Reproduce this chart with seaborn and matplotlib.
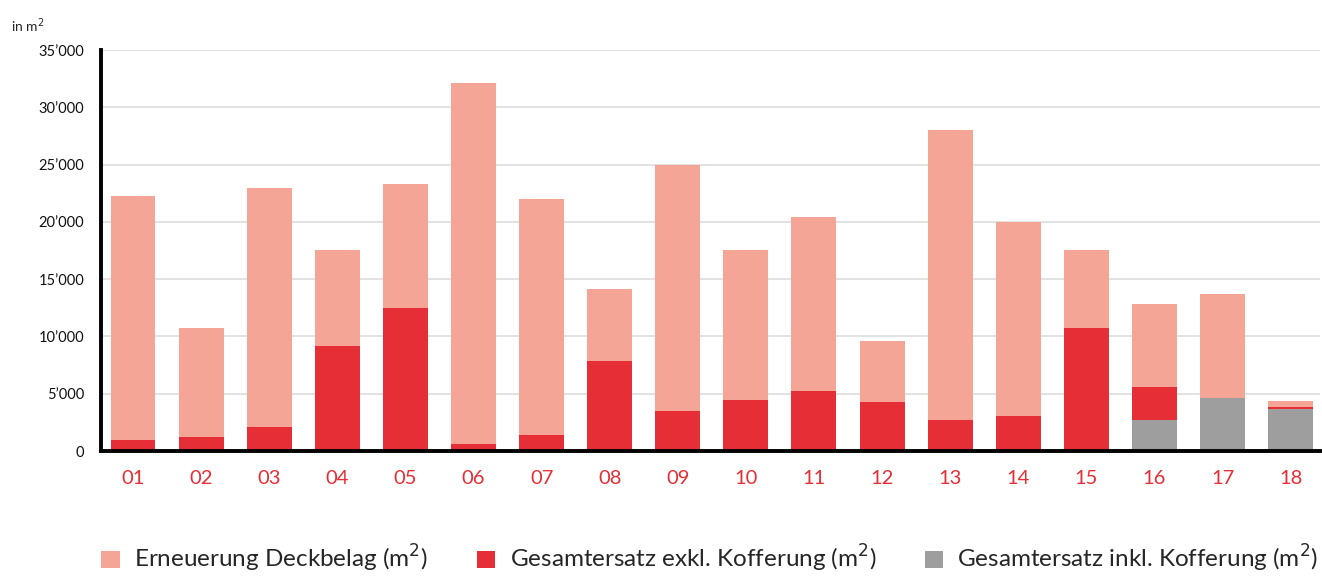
import numpy as np
import pandas as pd
import matplotlib
matplotlib.use("Agg")
import matplotlib.pyplot as plt
import seaborn as sns
from matplotlib.ticker import FuncFormatter
from matplotlib.patches import Patch

# Daten (m2) pro Abschnitt
abschnitte = ["01", "02", "03", "04", "05", "06", "07", "08", "09",
              "10", "11", "12", "13", "14", "15", "16", "17", "18"]
deckbelag = [21300, 9550, 20850, 8380, 10820, 31520, 20600, 6280, 21460,
             13090, 15180, 5320, 25320, 16940, 6800, 7240, 9070, 520]
exkl_kofferung = [950, 1200, 2100, 9160, 12480, 600, 1400, 7860, 3500,
                  4450, 5240, 4280, 2700, 3050, 10740, 2890, 0, 170]
inkl_kofferung = [0, 0, 0, 0, 0, 0, 0, 0, 0,
                  0, 0, 0, 0, 0, 0, 2700, 4630, 3670]

labels = ["Erneuerung Deckbelag (m$^2$)",
          "Gesamtersatz exkl. Kofferung (m$^2$)",
          "Gesamtersatz inkl. Kofferung (m$^2$)"]
farben = ["#F4A595", "#E52E35", "#9E9E9E"]

df = pd.DataFrame({"abschnitt": abschnitte, "deck": deckbelag,
                   "exkl": exkl_kofferung, "inkl": inkl_kofferung})
df["stufe2"] = df["inkl"] + df["exkl"]
df["stufe3"] = df["stufe2"] + df["deck"]

sns.set_theme(style="white")
plt.rcParams["font.family"] = ["Lato", "DejaVu Sans"]

fig = plt.figure(figsize=(13.22, 5.76), dpi=100)
ax = fig.add_axes([0.0764, 0.217, 0.922, 0.696])

# gestapelte Balken: Summen von oben nach unten zeichnen
sns.barplot(data=df, x="abschnitt", y="stufe3", color=farben[0], width=0.66,
            saturation=1, ax=ax, zorder=2)
sns.barplot(data=df, x="abschnitt", y="stufe2", color=farben[1], width=0.66,
            saturation=1, ax=ax, zorder=3)
sns.barplot(data=df, x="abschnitt", y="inkl", color=farben[2], width=0.66,
            saturation=1, ax=ax, zorder=4)
for p in ax.patches:
    p.set_linewidth(0)

ax.set_ylim(0, 35000)
ax.set_xlim(-0.47, 17.43)
ax.set_yticks(np.arange(0, 35001, 5000))
ax.yaxis.set_major_formatter(FuncFormatter(
    lambda v, _: "0" if v == 0 else f"{int(v):,}".replace(",", "\u2019")))
ax.yaxis.grid(True, color="#DDDDDD", linewidth=1.2, zorder=0)
ax.set_axisbelow(True)

ax.set_xlabel("")
ax.set_ylabel("")
for s in ["top", "right"]:
    ax.spines[s].set_visible(False)
for s in ["left", "bottom"]:
    ax.spines[s].set_color("black")
    ax.spines[s].set_linewidth(2.8)
    ax.spines[s].set_zorder(6)

ax.tick_params(axis="y", length=0, labelsize=10.5, pad=12, labelcolor="#111111")
ax.tick_params(axis="x", length=0, labelsize=14.5, pad=14, labelcolor="#E52E35")

# Trennstriche zwischen den Abschnitten
ax.set_xticks(np.arange(0.5, 17, 1), minor=True)
ax.tick_params(axis="x", which="minor", length=6, width=1.5, color="black",
               direction="out")

fig.text(0.008, 0.955, "in m$^2$", fontsize=10, ha="left", va="center")

handles = [Patch(facecolor=c, edgecolor="none") for c in farben]
fig.legend(handles, labels, loc="center", ncol=3, frameon=False,
           fontsize=17.5, bbox_to_anchor=(0.537, 0.03), handlelength=0.75,
           handleheight=0.75, columnspacing=2.0, handletextpad=0.6,
           borderaxespad=0, borderpad=0)

fig.savefig("out.png", dpi=100)
